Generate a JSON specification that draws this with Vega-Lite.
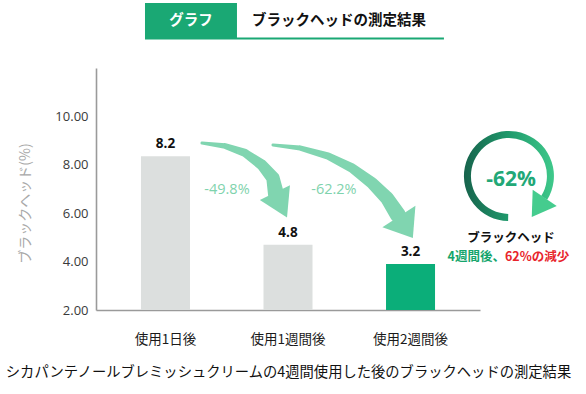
{
  "$schema": "https://vega.github.io/schema/vega-lite/v6.json",
  "width": 384,
  "height": 242,
  "autosize": {"type": "none"},
  "padding": {"left": 96, "top": 68, "right": 106, "bottom": 84},
  "background": "white",
  "config": {"view": {"stroke": null}, "font": "Noto Sans CJK JP"},
  "datasets": {
    "bars": [
      {"period": "使用1日後", "label": "8.2", "height": 8.35},
      {"period": "使用1週間後", "label": "4.8", "height": 4.7},
      {"period": "使用2週間後", "label": "3.2", "height": 3.9}
    ],
    "arrows": [
      {"arrow": "A", "x": 1.2979, "y": 8.901, "t": 0},
      {"arrow": "A", "x": 1.4856, "y": 8.777, "t": 0.2},
      {"arrow": "A", "x": 1.6488, "y": 8.488, "t": 0.4},
      {"arrow": "A", "x": 1.7876, "y": 7.992, "t": 0.6},
      {"arrow": "A", "x": 1.8773, "y": 7.455, "t": 0.8},
      {"arrow": "A", "x": 1.9018, "y": 6.793, "t": 1},
      {"arrow": "B", "x": 1.8773, "y": 8.818, "t": 0},
      {"arrow": "B", "x": 2.0977, "y": 8.694, "t": 0.17},
      {"arrow": "B", "x": 2.3262, "y": 8.364, "t": 0.33},
      {"arrow": "B", "x": 2.5221, "y": 7.868, "t": 0.5},
      {"arrow": "B", "x": 2.6853, "y": 7.248, "t": 0.67},
      {"arrow": "B", "x": 2.8077, "y": 6.628, "t": 0.83},
      {"arrow": "B", "x": 2.8975, "y": 5.926, "t": 1}
    ]
  },
  "layer": [
    {
      "data": {"name": "bars"},
      "encoding": {
        "x": {
          "field": "period", "type": "nominal", "sort": null,
          "scale": {"paddingInner": 0.6, "paddingOuter": 0.367},
          "axis": {
            "title": "シカパンテノールブレミッシュクリームの4週間使用した後のブラックヘッドの測定結果",
            "titleFont": "Noto Sans CJK JP", "titleFontSize": 14.3, "titleFontWeight": "normal",
            "titleColor": "#111111", "titlePadding": 20,
            "labelAngle": 0, "labelFont": "Noto Sans CJK JP", "labelFontSize": 13.5,
            "labelColor": "#1a1a1a", "labelPadding": 22, "ticks": false,
            "domainColor": "#9a9a9a", "domainWidth": 1.6, "grid": false
          }
        },
        "y": {
          "field": "height", "type": "quantitative",
          "scale": {"domain": [2, 12], "nice": false, "zero": false},
          "axis": {
            "values": [2, 4, 6, 8, 10], "format": ".2f",
            "labelFont": "Open Sans", "labelFontSize": 13, "labelColor": "#3a3a3a",
            "labelPadding": 8, "ticks": false, "grid": false,
            "domainColor": "#9a9a9a", "domainWidth": 1.6,
            "title": "ブラックヘッド(%)", "titleFont": "Noto Sans CJK JP", "titleFontSize": 14,
            "titleFontWeight": "normal", "titleColor": "#a8a8a8",
            "titleAngle": 270, "titleX": -71, "titleY": 135,
            "titleAlign": "center", "titleBaseline": "middle"
          }
        }
      },
      "layer": [
        {
          "mark": {"type": "bar"},
          "encoding": {
            "y2": {"datum": 2},
            "color": {
              "condition": {"test": "datum.period === '使用2週間後'", "value": "#0bae79"},
              "value": "#dcdfde"
            }
          }
        },
        {
          "mark": {"type": "text", "font": "Open Sans", "fontWeight": "bold", "fontSize": 13.5,
                   "color": "#111111", "baseline": "middle", "dy": -12},
          "encoding": {"text": {"field": "label"}}
        }
      ]
    },
    {
      "layer": [
        {
          "data": {"values": [{}]},
          "mark": {"type": "rect", "color": "#1aa874"},
          "encoding": {
            "x": {"datum": 0.8327, "type": "quantitative", "scale": {"domain": [0.4328, 3.5672]}, "axis": null},
            "x2": {"datum": 1.5835},
            "y": {"datum": 14.686, "type": "quantitative", "scale": {"domain": [2, 12]}, "axis": null},
            "y2": {"datum": 13.24}
          }
        },
        {
          "data": {"values": [{}]},
          "mark": {"type": "rule", "color": "#1aa874", "strokeWidth": 2},
          "encoding": {
            "x": {"datum": 0.8327, "type": "quantitative", "scale": {"domain": [0.4328, 3.5672]}, "axis": null},
            "x2": {"datum": 3.2729},
            "y": {"datum": 13.219, "type": "quantitative", "scale": {"domain": [2, 12]}, "axis": null}
          }
        },
        {
          "data": {"values": [{"txt": "グラフ"}]},
          "mark": {"type": "text", "font": "Noto Sans CJK JP", "fontWeight": "bold", "fontSize": 14.5,
                   "color": "white", "align": "center", "baseline": "middle"},
          "encoding": {
            "x": {"datum": 1.208, "type": "quantitative", "scale": {"domain": [0.4328, 3.5672]}, "axis": null},
            "y": {"datum": 13.942, "type": "quantitative", "scale": {"domain": [2, 12]}, "axis": null},
            "text": {"field": "txt"}
          }
        },
        {
          "data": {"values": [{"txt": "ブラックヘッドの測定結果"}]},
          "mark": {"type": "text", "font": "Noto Sans CJK JP", "fontWeight": "bold", "fontSize": 14.5,
                   "color": "#111111", "align": "left", "baseline": "middle"},
          "encoding": {
            "x": {"datum": 1.706, "type": "quantitative", "scale": {"domain": [0.4328, 3.5672]}, "axis": null},
            "y": {"datum": 13.942, "type": "quantitative", "scale": {"domain": [2, 12]}, "axis": null},
            "text": {"field": "txt"}
          }
        },
        {
          "data": {"name": "arrows"},
          "mark": {"type": "trail", "color": "#80d5b0"},
          "encoding": {
            "x": {"field": "x", "type": "quantitative", "scale": {"domain": [0.4328, 3.5672]}, "axis": null},
            "y": {"field": "y", "type": "quantitative", "scale": {"domain": [2, 12]}, "axis": null},
            "size": {"field": "t", "type": "quantitative", "scale": {"domain": [0, 1], "range": [3, 16]}, "legend": null},
            "detail": {"field": "arrow"},
            "order": {"field": "t"}
          }
        },
        {
          "data": {"values": [{}]},
          "mark": {"type": "point", "shape": "M-1,-0.8L1,-0.8L0,0.85Z", "filled": true, "opacity": 1,
                   "size": 1122, "angle": 334, "color": "#80d5b0", "strokeWidth": 0},
          "encoding": {
            "x": {"datum": 1.941, "type": "quantitative", "scale": {"domain": [0.4328, 3.5672]}, "axis": null},
            "y": {"datum": 6.355, "type": "quantitative", "scale": {"domain": [2, 12]}, "axis": null}
          }
        },
        {
          "data": {"values": [{}]},
          "mark": {"type": "point", "shape": "M-1,-0.62L1,-0.62L0,0.68Z", "filled": true, "opacity": 1,
                   "size": 1552, "angle": 327, "color": "#80d5b0", "strokeWidth": 0},
          "encoding": {
            "x": {"datum": 2.9596, "type": "quantitative", "scale": {"domain": [0.4328, 3.5672]}, "axis": null},
            "y": {"datum": 5.442, "type": "quantitative", "scale": {"domain": [2, 12]}, "axis": null}
          }
        },
        {
          "data": {"values": [{"txt": "-49.8%"}]},
          "mark": {"type": "text", "font": "Open Sans", "fontSize": 14.5, "color": "#7fd3ad",
                   "align": "center", "baseline": "middle"},
          "encoding": {
            "x": {"datum": 1.502, "type": "quantitative", "scale": {"domain": [0.4328, 3.5672]}, "axis": null},
            "y": {"datum": 6.959, "type": "quantitative", "scale": {"domain": [2, 12]}, "axis": null},
            "text": {"field": "txt"}
          }
        },
        {
          "data": {"values": [{"txt": "-62.2%"}]},
          "mark": {"type": "text", "font": "Open Sans", "fontSize": 14.5, "color": "#7fd3ad",
                   "align": "center", "baseline": "middle"},
          "encoding": {
            "x": {"datum": 2.375, "type": "quantitative", "scale": {"domain": [0.4328, 3.5672]}, "axis": null},
            "y": {"datum": 6.959, "type": "quantitative", "scale": {"domain": [2, 12]}, "axis": null},
            "text": {"field": "txt"}
          }
        },
        {
          "data": {"values": [{}]},
          "mark": {"type": "arc", "radius": 45, "radius2": 38, "theta": 3.16, "theta2": 8.41,
                   "fill": {"gradient": "linear", "x1": 0, "y1": 0.5, "x2": 1, "y2": 0.5,
                            "stops": [{"offset": 0, "color": "#17634c"}, {"offset": 0.5, "color": "#1f9a6c"}, {"offset": 1, "color": "#3fc98b"}]}},
          "encoding": {
            "x": {"datum": 3.8034, "type": "quantitative", "scale": {"domain": [0.4328, 3.5672]}, "axis": null},
            "y": {"datum": 7.537, "type": "quantitative", "scale": {"domain": [2, 12]}, "axis": null}
          }
        },
        {
          "data": {"values": [{}]},
          "mark": {"type": "point", "shape": "M-1,-0.8L1,-0.8L0,0.8Z", "filled": true, "opacity": 1,
                   "size": 840, "angle": 34, "color": "#45cc8e", "strokeWidth": 0},
          "encoding": {
            "x": {"datum": 4.0425, "type": "quantitative", "scale": {"domain": [0.4328, 3.5672]}, "axis": null},
            "y": {"datum": 6.236, "type": "quantitative", "scale": {"domain": [2, 12]}, "axis": null}
          }
        },
        {
          "data": {"values": [{"txt": "-62%"}]},
          "mark": {"type": "text", "font": "Open Sans", "fontWeight": "bold", "fontSize": 21,
                   "color": "#22a877", "align": "center", "baseline": "middle"},
          "encoding": {
            "x": {"datum": 3.82, "type": "quantitative", "scale": {"domain": [0.4328, 3.5672]}, "axis": null},
            "y": {"datum": 7.372, "type": "quantitative", "scale": {"domain": [2, 12]}, "axis": null},
            "text": {"field": "txt"}
          }
        },
        {
          "data": {"values": [{"txt": "ブラックヘッド"}]},
          "mark": {"type": "text", "font": "Noto Sans CJK JP", "fontWeight": "bold", "fontSize": 12.5,
                   "color": "#111111", "align": "center", "baseline": "middle"},
          "encoding": {
            "x": {"datum": 3.8197, "type": "quantitative", "scale": {"domain": [0.4328, 3.5672]}, "axis": null},
            "y": {"datum": 4.975, "type": "quantitative", "scale": {"domain": [2, 12]}, "axis": null},
            "text": {"field": "txt"}
          }
        },
        {
          "data": {"values": [{"txt": "4週間後、"}]},
          "mark": {"type": "text", "font": "Noto Sans CJK JP", "fontWeight": "bold", "fontSize": 12.5,
                   "color": "#15a56c", "align": "right", "baseline": "middle"},
          "encoding": {
            "x": {"datum": 3.7708, "type": "quantitative", "scale": {"domain": [0.4328, 3.5672]}, "axis": null},
            "y": {"datum": 4.19, "type": "quantitative", "scale": {"domain": [2, 12]}, "axis": null},
            "text": {"field": "txt"}
          }
        },
        {
          "data": {"values": [{"txt": "62%の減少"}]},
          "mark": {"type": "text", "font": "Noto Sans CJK JP", "fontWeight": "bold", "fontSize": 12.5,
                   "color": "#e8242b", "align": "left", "baseline": "middle"},
          "encoding": {
            "x": {"datum": 3.7708, "type": "quantitative", "scale": {"domain": [0.4328, 3.5672]}, "axis": null},
            "y": {"datum": 4.19, "type": "quantitative", "scale": {"domain": [2, 12]}, "axis": null},
            "text": {"field": "txt"}
          }
        }
      ]
    }
  ],
  "resolve": {"scale": {"x": "independent", "y": "independent"}}
}
